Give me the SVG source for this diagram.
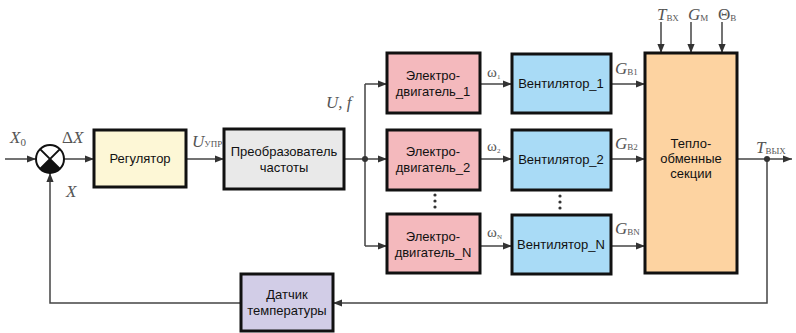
<svg xmlns="http://www.w3.org/2000/svg" width="796" height="333" viewBox="0 0 796 333">
<defs>
<marker id="ah" viewBox="0 0 10 10" refX="10" refY="5" markerWidth="9" markerHeight="9" markerUnits="userSpaceOnUse" orient="auto">
<path d="M0,1 L10,5 L0,9 z" fill="#333"/>
</marker>
</defs>
<style>
.box{stroke:#111;stroke-width:3}
.t{font-family:"Liberation Sans",Arial,sans-serif;font-size:13px;fill:#111;text-anchor:middle}
.m{font-family:"Liberation Serif","Times New Roman",serif;font-style:italic;font-size:17px;fill:#555}
.s{font-family:"Liberation Serif","Times New Roman",serif;font-style:normal;font-size:9px;fill:#555}
.w{font-family:"Liberation Serif","Times New Roman",serif;font-size:15px;fill:#555}
.ln{stroke:#444;stroke-width:1.5;fill:none}
.dot{fill:#333}
</style>
<rect width="796" height="333" fill="#fff"/>
<g id="connectors">
<path class="ln" d="M5,159 H36" marker-end="url(#ah)"/>
<path class="ln" d="M64,159 H94" marker-end="url(#ah)"/>
<path class="ln" d="M186,159 H224" marker-end="url(#ah)"/>
<path class="ln" d="M344,159 H365 M365,84 V246"/>
<path class="ln" d="M365,84 H387" marker-end="url(#ah)"/>
<path class="ln" d="M365,159 H387" marker-end="url(#ah)"/>
<path class="ln" d="M365,246 H387" marker-end="url(#ah)"/>
<path class="ln" d="M480,84 H512" marker-end="url(#ah)"/>
<path class="ln" d="M480,159 H512" marker-end="url(#ah)"/>
<path class="ln" d="M480,246 H512" marker-end="url(#ah)"/>
<path class="ln" d="M611,84 H645" marker-end="url(#ah)"/>
<path class="ln" d="M611,159 H645" marker-end="url(#ah)"/>
<path class="ln" d="M611,246 H645" marker-end="url(#ah)"/>
<path class="ln" d="M661,22 V53" marker-end="url(#ah)"/>
<path class="ln" d="M691,22 V53" marker-end="url(#ah)"/>
<path class="ln" d="M722,22 V53" marker-end="url(#ah)"/>
<path class="ln" d="M737,159 H792" marker-end="url(#ah)"/>
<path class="ln" d="M767,159 V303 H333" marker-end="url(#ah)"/>
<path class="ln" d="M241,303 H50 V173" marker-end="url(#ah)"/>
<circle class="dot" cx="365" cy="159" r="3"/>
<circle class="dot" cx="767" cy="159" r="3"/>
</g>
<g id="sum">
<circle cx="50" cy="159" r="14" fill="#fff" stroke="#111" stroke-width="2"/>
<path d="M50,159 L59.9,168.9 A14,14 0 0 1 40.1,168.9 Z" fill="#111"/>
<path d="M40.1,149.1 L59.9,168.9 M59.9,149.1 L40.1,168.9" stroke="#111" stroke-width="2"/>
</g>
<g id="regulator">
<rect class="box" x="94" y="130" width="92" height="57" fill="#fdf7d6"/>
<text class="t" x="140" y="163">Регулятор</text>
</g>
<g id="converter">
<rect class="box" x="224" y="129" width="120" height="60" fill="#e9e9e9"/>
<text class="t" x="284" y="156">Преобразователь</text>
<text class="t" x="284" y="172">частоты</text>
</g>
<g id="motor1">
<rect class="box" x="387" y="53" width="93" height="60" fill="#f4b9bd"/>
<text class="t" x="433" y="80">Электро-</text>
<text class="t" x="433" y="96">двигатель_1</text>
</g>
<g id="motor2">
<rect class="box" x="387" y="130" width="93" height="60" fill="#f4b9bd"/>
<text class="t" x="433" y="156">Электро-</text>
<text class="t" x="433" y="172">двигатель_2</text>
</g>
<g id="motorN">
<rect class="box" x="387" y="214" width="93" height="59" fill="#f4b9bd"/>
<text class="t" x="433" y="241">Электро-</text>
<text class="t" x="433" y="257">двигатель_N</text>
</g>
<g id="fan1">
<rect class="box" x="512" y="54" width="99" height="59" fill="#a9dbf6"/>
<text class="t" x="561" y="88">Вентилятор_1</text>
</g>
<g id="fan2">
<rect class="box" x="512" y="130" width="99" height="60" fill="#a9dbf6"/>
<text class="t" x="561" y="164">Вентилятор_2</text>
</g>
<g id="fanN">
<rect class="box" x="512" y="215" width="99" height="59" fill="#a9dbf6"/>
<text class="t" x="561" y="249">Вентилятор_N</text>
</g>
<g id="heat">
<rect class="box" x="645" y="53" width="92" height="220" fill="#fdd3a1"/>
<text class="t" x="691" y="148">Тепло-</text>
<text class="t" x="691" y="163">обменные</text>
<text class="t" x="691" y="178">секции</text>
</g>
<g id="sensor">
<rect class="box" x="241" y="274" width="92" height="57" fill="#d2cde7"/>
<text class="t" x="287" y="299">Датчик</text>
<text class="t" x="287" y="315">температуры</text>
</g>
<g id="dots">
<circle class="dot" cx="435" cy="195" r="1.6"/>
<circle class="dot" cx="435" cy="201" r="1.6"/>
<circle class="dot" cx="435" cy="207" r="1.6"/>
<circle class="dot" cx="560" cy="196" r="1.6"/>
<circle class="dot" cx="560" cy="202" r="1.6"/>
<circle class="dot" cx="560" cy="208" r="1.6"/>
</g>
<g id="labels">
<text class="m" x="10" y="143">X<tspan class="s" style="font-size:11px" dy="3">0</tspan></text>
<text class="m" x="62" y="143"><tspan font-style="normal">Δ</tspan>X</text>
<text class="m" x="66" y="197">X</text>
<text class="m" x="192" y="147">U<tspan class="s" dy="0">УПР</tspan></text>
<text class="m" x="326" y="108">U, f</text>
<text class="w" x="487" y="77">ω<tspan class="s" style="font-size:7px" dy="2">1</tspan></text>
<text class="w" x="487" y="151">ω<tspan class="s" style="font-size:7px" dy="2">2</tspan></text>
<text class="w" x="487" y="237">ω<tspan class="s" style="font-size:7px" dy="2">N</tspan></text>
<text class="m" x="615" y="74">G<tspan class="s" dy="1">В1</tspan></text>
<text class="m" x="615" y="149">G<tspan class="s" dy="1">В2</tspan></text>
<text class="m" x="615" y="234">G<tspan class="s" dy="1">ВN</tspan></text>
<text class="m" x="657" y="20">T<tspan class="s" dy="1">ВХ</tspan></text>
<text class="m" x="688" y="20">G<tspan class="s" dy="1">М</tspan></text>
<text class="m" x="718" y="20"><tspan font-style="normal">Θ</tspan><tspan class="s" dy="1">В</tspan></text>
<text class="m" x="756" y="153">T<tspan class="s" dy="1">ВЫХ</tspan></text>
</g>
</svg>
